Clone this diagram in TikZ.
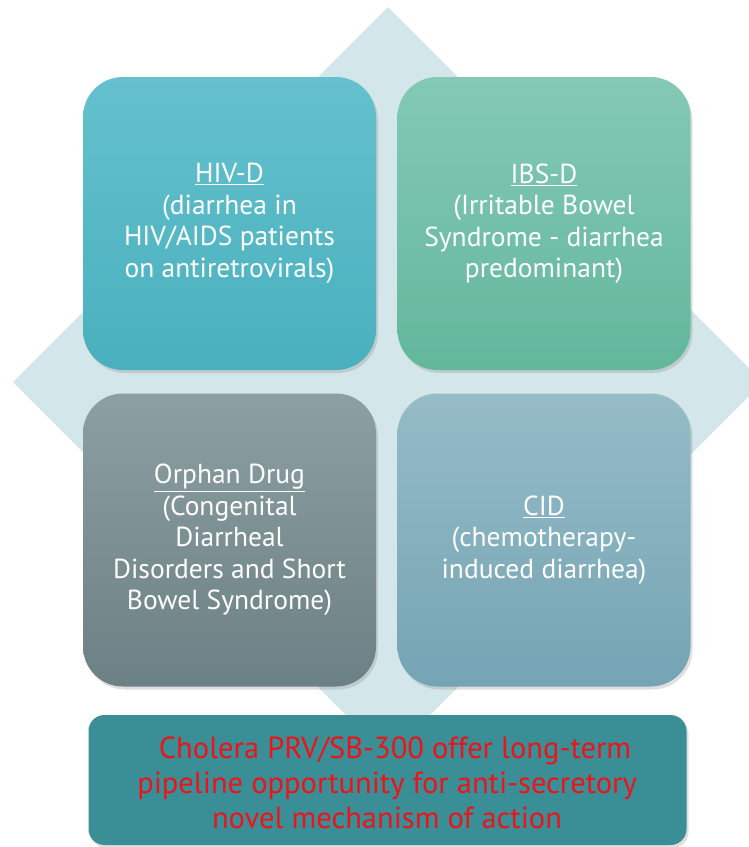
\documentclass[tikz,border=0pt]{standalone}
\usepackage{fontspec}
\setmainfont{PT Sans}
\usetikzlibrary{shadows}
\definecolor{diam}{HTML}{D3E6EA}
\definecolor{hivtop}{HTML}{64C1CD}
\definecolor{hivbot}{HTML}{4AB0BE}
\definecolor{ibstop}{HTML}{84C9B5}
\definecolor{ibsbot}{HTML}{63B79B}
\definecolor{orptop}{HTML}{8C9FA2}
\definecolor{orpbot}{HTML}{6C8185}
\definecolor{cidtop}{HTML}{95BCC7}
\definecolor{cidbot}{HTML}{75A4B4}
\definecolor{botbox}{HTML}{3A8E95}
\definecolor{redtxt}{HTML}{EC141A}
\tikzset{
  quadbox/.style={minimum width=293pt, minimum height=293pt, rounded corners=40pt,
    text=white, align=center, inner sep=0pt,
    font=\fontsize{27.5}{31.5}\selectfont,
    drop shadow={shadow xshift=2pt, shadow yshift=-3pt, opacity=0.25}},
  notebox/.style={minimum width=598pt, minimum height=130pt, rounded corners=16pt,
    fill=botbox, inner sep=0pt,
    drop shadow={shadow xshift=2pt, shadow yshift=-3pt, opacity=0.25}},
  notetext/.style={text=redtxt, align=center, inner sep=0pt,
    font=\fontsize{30.5}{35}\selectfont}
}
\begin{document}
\begin{tikzpicture}[x=1pt,y=-1pt]
\useasboundingbox (0,0) rectangle (749,847);
\fill[diam] (388,7) -- (763,382) -- (388,757) -- (13,382) -- cycle;
\node[quadbox, top color=hivtop, bottom color=hivbot] (hiv) at (229.5,223.5)
  {\underline{HIV-D}\\(diarrhea in\\HIV/AIDS patients\\on antiretrovirals)};
\node[quadbox, top color=ibstop, bottom color=ibsbot] (ibs) at (544,223.5)
  {\underline{IBS-D}\\(Irritable Bowel\\Syndrome - diarrhea\\predominant)};
\node[quadbox, top color=orptop, bottom color=orpbot] (orp) at (229.5,540)
  {\underline{Orphan Drug}\\(Congenital\\Diarrheal\\Disorders and Short\\Bowel Syndrome)};
\node[quadbox, top color=cidtop, bottom color=cidbot] (cid) at (544,540)
  {\underline{CID}\\(chemotherapy-\\induced diarrhea)};
\node[notebox] (note) at (387.5,780) {};
\node[notetext] (notetext) at (387,783)
  {\hspace{16pt}Cholera PRV/SB-300 offer long-term\\pipeline opportunity for anti-secretory\\novel mechanism of action};
\end{tikzpicture}
\end{document}
